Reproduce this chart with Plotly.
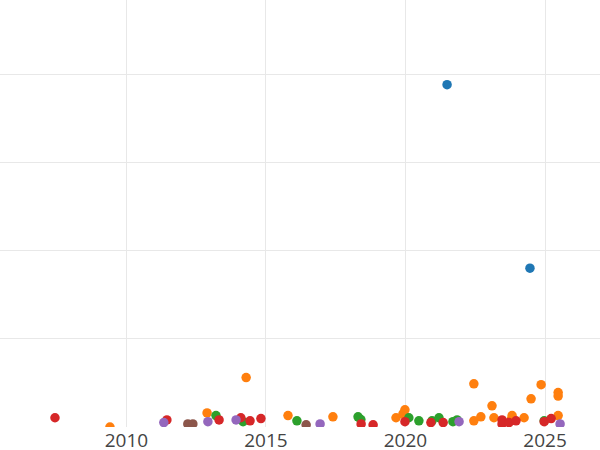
import plotly.graph_objects as go

# Series data (year, value)
blue_x = [2021.49, 2024.46]
blue_y = [388, 180]

orange_x = [2009.41, 2012.89, 2014.29, 2015.79, 2017.40, 2019.66, 2019.91, 2019.98,
            2022.45, 2022.45, 2022.70, 2023.10, 2023.17, 2023.78, 2023.82, 2024.25,
            2024.50, 2024.86, 2025.47, 2025.47, 2025.47]
orange_y = [0, 16, 56, 13, 11.5, 10.5, 15, 19.5,
            49, 7, 11.5, 24, 10.5, 8, 13, 10.5,
            32, 48, 39, 35, 13]

green_x = [2013.21, 2014.18, 2016.11, 2018.30, 2018.40, 2020.12, 2020.48, 2020.95,
           2021.20, 2021.70, 2021.85, 2024.97]
green_y = [13, 6, 7, 11.5, 8.5, 10.5, 7, 7,
           10.5, 6, 8, 7]

red_x = [2007.44, 2011.45, 2013.32, 2014.10, 2014.43, 2014.82, 2018.41, 2018.84,
         2019.98, 2020.91, 2021.35, 2023.46, 2023.46, 2023.71, 2023.96, 2024.97, 2025.22]
red_y = [10.5, 8, 8, 10.5, 7, 9.5, 3.5, 2.5,
         6, 5, 5, 8, 3.5, 5, 7, 6, 9.5]

purple_x = [2011.34, 2012.92, 2013.93, 2016.94, 2021.92, 2025.54]
purple_y = [5, 6, 8, 3.5, 6, 3.5]

brown_x = [2012.20, 2012.38, 2016.44]
brown_y = [3.5, 3.5, 2.5]

x_tick_vals = [2010, 2015, 2020, 2025]
x_tick_text = ["2010", "2015", "2020", "2025"]

series = [
    ("Series 1", blue_x, blue_y, "#1f77b4"),
    ("Series 2", orange_x, orange_y, "#ff7f0e"),
    ("Series 3", green_x, green_y, "#2ca02c"),
    ("Series 4", red_x, red_y, "#d62728"),
    ("Series 5", purple_x, purple_y, "#9467bd"),
    ("Series 6", brown_x, brown_y, "#8c564b"),
]

fig = go.Figure()
for name, xs, ys, color in series:
    fig.add_trace(go.Scatter(
        x=xs, y=ys, mode="markers", name=name,
        marker=dict(color=color, size=9.5, line=dict(width=0)),
    ))

fig.update_layout(
    width=600, height=450,
    margin=dict(l=0, r=0, t=0, b=23, pad=0),
    paper_bgcolor="white", plot_bgcolor="white",
    showlegend=False,
    font=dict(family="Open Sans", color="#444444"),
)
fig.update_xaxes(
    range=[2005.47, 2026.97],
    tickvals=x_tick_vals, ticktext=x_tick_text,
    tickfont=dict(size=19, color="#444444"),
    showgrid=True, gridcolor="#e8e8e8", gridwidth=1,
    zeroline=False, showline=False, ticks="", automargin=False,
)
fig.update_yaxes(
    range=[0, 484], dtick=100,
    showticklabels=False,
    showgrid=True, gridcolor="#e8e8e8", gridwidth=1,
    zeroline=False, showline=False, ticks="", automargin=False,
)

fig.write_html(
    "out.html",
    config={"displayModeBar": False},
    post_script="document.body.style.margin='0px';document.body.style.overflow='hidden';",
)
